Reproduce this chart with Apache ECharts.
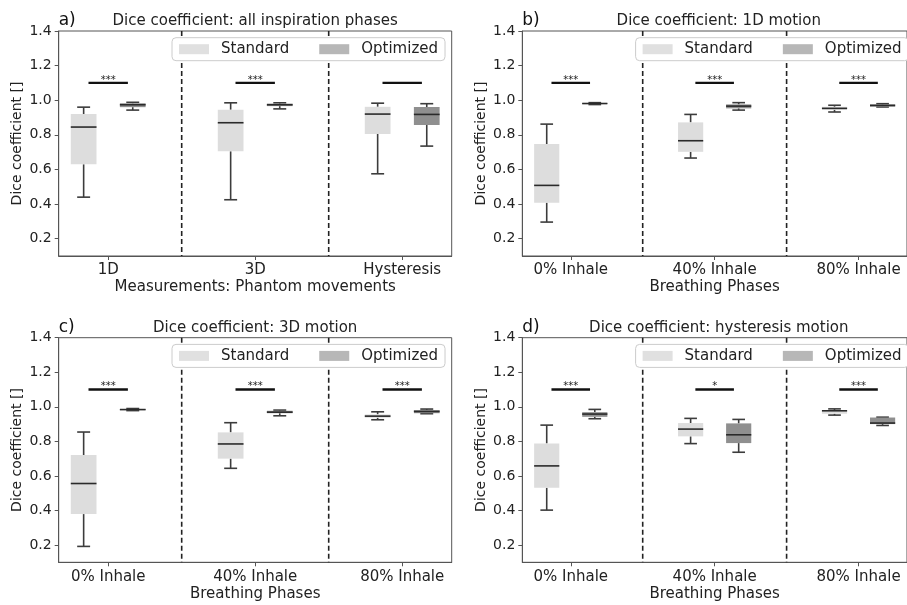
<!DOCTYPE html>
<html>
<head>
<meta charset="utf-8">
<script src="https://cdn.jsdelivr.net/npm/echarts@6/dist/echarts.min.js"></script>
<style>
html,body{margin:0;padding:0;background:#fff;}
#chart{width:907px;height:605px;}
</style>
</head>
<body>
<div id="chart"></div>
<script>
// ---------- data ----------
const panelLetters = ['a)', 'b)', 'c)', 'd)'];
const panelTitles = [
  'Dice coefficient: all inspiration phases',
  'Dice coefficient: 1D motion',
  'Dice coefficient: 3D motion',
  'Dice coefficient: hysteresis motion'
];
const catsMovement = ['1D', '3D', 'Hysteresis'];
const catsPhase = ['0% Inhale', '40% Inhale', '80% Inhale'];
const xAxisNames = ['Measurements: Phantom movements', 'Breathing Phases', 'Breathing Phases', 'Breathing Phases'];
const yAxisName = 'Dice coefficient []';
const yTicks = [0.2, 0.4, 0.6, 0.8, 1.0, 1.2, 1.4];
const seriesNames = ['Standard', 'Optimized'];

// each box: [min, Q1, median, Q3, max]
const stdA = [[0.44, 0.63, 0.845, 0.92, 0.96], [0.425, 0.705, 0.87, 0.945, 0.985], [0.575, 0.805, 0.92, 0.962, 0.983]];
const optA = [[0.943, 0.96, 0.974, 0.982, 0.988], [0.95, 0.966, 0.974, 0.98, 0.985], [0.735, 0.857, 0.918, 0.961, 0.98]];
const stdB = [[0.296, 0.408, 0.508, 0.747, 0.862], [0.666, 0.702, 0.766, 0.872, 0.918], [0.932, 0.945, 0.953, 0.962, 0.971]];
const optB = [[0.975, 0.978, 0.981, 0.984, 0.986], [0.943, 0.953, 0.966, 0.976, 0.986], [0.961, 0.963, 0.97, 0.976, 0.98]];
const stdC = [[0.192, 0.379, 0.556, 0.721, 0.854], [0.644, 0.70, 0.785, 0.852, 0.908], [0.925, 0.937, 0.946, 0.956, 0.971]];
const optC = [[0.978, 0.981, 0.984, 0.987, 0.99], [0.948, 0.963, 0.969, 0.977, 0.981], [0.96, 0.963, 0.973, 0.981, 0.987]];
const stdD = [[0.402, 0.531, 0.658, 0.788, 0.894], [0.787, 0.829, 0.871, 0.906, 0.933], [0.952, 0.96, 0.977, 0.981, 0.988]];
const optD = [[0.931, 0.942, 0.958, 0.969, 0.985], [0.737, 0.79, 0.838, 0.904, 0.927], [0.892, 0.90, 0.906, 0.938, 0.94]];

const sigLevel = 1.1;
const sigA = ['***', '***', ''];
const sigB = ['***', '***', '***'];
const sigC = ['***', '***', '***'];
const sigD = ['***', '*', '***'];
const separators = [0.5, 1.5];

// ---------- styling / layout ----------
const FONT = 'DejaVu Sans';
const STD_FILL = '#dddddd';
const OPT_FILL = '#8f8f8f';
const BOX_W = 0.175, OFF = 0.167, CAP_W = 0.088, SIG_HALF = 0.134;
const XMIN = -0.3367, XMAX = 2.3367;
const grids = [
  {left: 58.7, top: 31, width: 393, height: 225},
  {left: 522.3, top: 31, width: 393, height: 225},
  {left: 58.7, top: 337.7, width: 393, height: 224.6},
  {left: 522.3, top: 337.7, width: 393, height: 224.6}
];
const panels = [
  {cats: catsMovement, std: stdA, opt: optA, sig: sigA},
  {cats: catsPhase, std: stdB, opt: optB, sig: sigB},
  {cats: catsPhase, std: stdC, opt: optC, sig: sigC},
  {cats: catsPhase, std: stdD, opt: optD, sig: sigD}
];

function boxRenderer(fill) {
  return function (params, api) {
    const x = api.value(0);
    const mn = api.value(1), q1 = api.value(2), md = api.value(3), q3 = api.value(4), mx = api.value(5);
    const h = BOX_W / 2, c = CAP_W / 2;
    const p = (xx, yy) => api.coord([xx, yy]);
    const ln = (a, b, st) => ({type: 'line', shape: {x1: a[0], y1: a[1], x2: b[0], y2: b[1]}, style: st});
    const wst = {stroke: '#3c3c3c', lineWidth: 1.6};
    const tl = p(x - h, q3), br = p(x + h, q1);
    return {
      type: 'group',
      children: [
        ln(p(x, q3), p(x, mx), wst),
        ln(p(x, q1), p(x, mn), wst),
        ln(p(x - c, mx), p(x + c, mx), wst),
        ln(p(x - c, mn), p(x + c, mn), wst),
        {type: 'rect', shape: {x: tl[0], y: tl[1], width: br[0] - tl[0], height: br[1] - tl[1]}, style: {fill: fill}},
        ln(p(x - h, md), p(x + h, md), {stroke: '#2a2a2a', lineWidth: 1.6})
      ]
    };
  };
}

const panelsSig = {};
function sigRenderer(params, api) {
  const x = api.value(0), y = api.value(1);
  const a = api.coord([x - SIG_HALF, y]), b = api.coord([x + SIG_HALF, y]);
  const label = panelsSig[params.seriesIndex][params.dataIndex];
  return {
    type: 'group',
    children: [
      {type: 'line', shape: {x1: a[0], y1: a[1], x2: b[0], y2: b[1]}, style: {stroke: '#111', lineWidth: 2.4}},
      {type: 'text', style: {text: label, x: (a[0] + b[0]) / 2, y: a[1] - 3, textAlign: 'center', textVerticalAlign: 'middle', font: '10px ' + FONT, fill: '#222'}}
    ]
  };
}

function sepRenderer(params, api) {
  const x = api.value(0);
  const a = api.coord([x, 1.4]), b = api.coord([x, 0.1]);
  return {type: 'line', shape: {x1: a[0], y1: a[1], x2: b[0], y2: b[1]}, style: {stroke: '#222', lineWidth: 1.6, lineDash: [5, 3]}};
}

const option = {
  backgroundColor: '#fff',
  animation: false,
  textStyle: {fontFamily: FONT},
  grid: [], xAxis: [], yAxis: [], series: [], legend: [], graphic: []
};

panels.forEach((pn, i) => {
  const g = grids[i];
  option.grid.push(Object.assign({show: true, borderColor: '#555', borderWidth: 1, backgroundColor: 'transparent'}, g));
  option.xAxis.push({
    type: 'value', gridIndex: i, min: XMIN, max: XMAX,
    name: xAxisNames[i], nameLocation: 'middle', nameGap: 24,
    nameTextStyle: {fontSize: 15, color: '#222', fontFamily: FONT},
    axisLine: {show: true, onZero: false, lineStyle: {color: '#555', width: 1}},
    axisTick: {show: true, length: 4, lineStyle: {color: '#555'}, customValues: [0, 1, 2]},
    axisLabel: {customValues: [0, 1, 2], formatter: v => pn.cats[Math.round(v)], fontSize: 15, color: '#222', margin: 7, fontFamily: FONT},
    splitLine: {show: false}
  });
  option.yAxis.push({
    type: 'value', gridIndex: i, min: 0.1, max: 1.4,
    name: yAxisName, nameLocation: 'middle', nameGap: 34,
    nameTextStyle: {fontSize: 14, color: '#222', fontFamily: FONT},
    axisLine: {show: true, onZero: false, lineStyle: {color: '#555', width: 1}},
    axisTick: {show: true, length: 4, lineStyle: {color: '#555'}, customValues: yTicks},
    axisLabel: {customValues: yTicks, formatter: v => v.toFixed(1), fontSize: 14, color: '#222', margin: 7, fontFamily: FONT},
    splitLine: {show: false}
  });
  option.series.push({
    type: 'custom', name: 'sep' + i, xAxisIndex: i, yAxisIndex: i, silent: true,
    renderItem: sepRenderer, data: separators.map(s => [s]), encode: {x: 0}
  });
  option.series.push({
    type: 'custom', name: seriesNames[0], xAxisIndex: i, yAxisIndex: i,
    itemStyle: {color: STD_FILL},
    renderItem: boxRenderer(STD_FILL),
    data: pn.std.map((b, k) => [k - OFF].concat(b)), encode: {x: 0, y: [1, 2, 3, 4, 5]}
  });
  option.series.push({
    type: 'custom', name: seriesNames[1], xAxisIndex: i, yAxisIndex: i,
    itemStyle: {color: OPT_FILL},
    renderItem: boxRenderer(OPT_FILL),
    data: pn.opt.map((b, k) => [k + OFF].concat(b)), encode: {x: 0, y: [1, 2, 3, 4, 5]}
  });
  panelsSig[option.series.length] = pn.sig;
  option.series.push({
    type: 'custom', name: 'sig' + i, xAxisIndex: i, yAxisIndex: i, silent: true,
    renderItem: sigRenderer, data: pn.sig.map((s, k) => [k, sigLevel]), encode: {x: 0, y: 1}
  });
  option.legend.push({
    left: g.left + 113.3, top: g.top + 6.7, width: 320,
    orient: 'horizontal', icon: 'rect', itemWidth: 30, itemHeight: 10, itemGap: 30,
    padding: [4, 7, 4, 7],
    backgroundColor: '#ffffff', borderColor: '#cccccc', borderWidth: 1, borderRadius: 4,
    textStyle: {fontSize: 15, color: '#222', fontFamily: FONT, padding: [0, 0, 0, 7]},
    selectedMode: false,
    data: [
      {name: seriesNames[0], itemStyle: {color: '#e0e0e0'}},
      {name: seriesNames[1], itemStyle: {color: '#b7b7b7'}}
    ]
  });
  const midY = g.top - 10;
  option.graphic.push({
    type: 'text', x: g.left, y: midY, z: 100,
    style: {text: panelLetters[i], font: '17px ' + FONT, fill: '#111', textAlign: 'left', textVerticalAlign: 'middle'}
  });
  option.graphic.push({
    type: 'text', x: g.left + g.width / 2, y: midY, z: 100,
    style: {text: panelTitles[i], font: '15px ' + FONT, fill: '#222', textAlign: 'center', textVerticalAlign: 'middle'}
  });
});

const chart = echarts.init(document.getElementById('chart'), null, {renderer: 'canvas'});
chart.setOption(option);
</script>
</body>
</html>
